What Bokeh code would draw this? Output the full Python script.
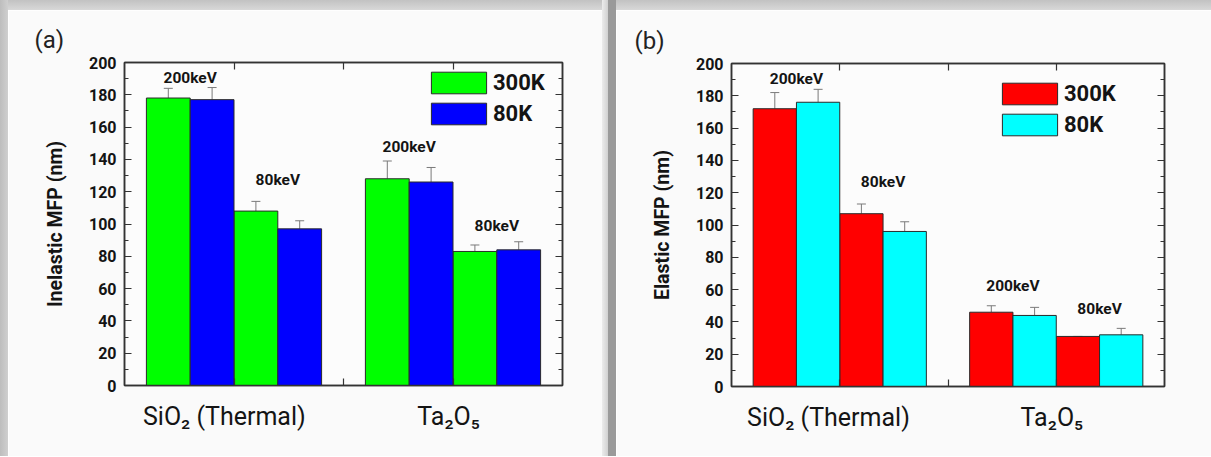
from bokeh.plotting import figure
from bokeh.models import (ColumnDataSource, Whisker, TeeHead, Legend, LegendItem, LinearAxis,
                          FixedTicker, SingleIntervalTicker, CustomJSTickFormatter, Range1d, Div)
from bokeh.layouts import row, column
from bokeh.embed import file_html
from bokeh.resources import INLINE
from bokeh.core.properties import value

# ---------------- data ----------------
materials = ["SiO₂ (Thermal)", "Ta₂O₅"]
energies = ["200keV", "80keV"]
temps = ["300K", "80K"]

# order: SiO2-200keV, SiO2-80keV, Ta2O5-200keV, Ta2O5-80keV
inel_300K = [178, 108, 128, 83]
inel_80K = [177, 97, 126, 84]
inel_err_300K = [6, 6, 11, 4]
inel_err_80K = [7.5, 5, 9, 5]

el_300K = [172, 107, 46, 31]
el_80K = [176, 96, 44, 32]
el_err_300K = [10, 6, 4, 0]
el_err_80K = [8, 6, 5, 4]

FONT = "Roboto"
TXT = "#141414"
H = 446


def bar_x(t):
    return [1 + 5 * m + 2 * e + t for m in range(2) for e in range(2)]


def make_panel(tag, ylabel, vals, errs, colors, note_y, legend_loc, width,
               min_left, min_right, min_top, cat_shift, tag_offset):
    p = figure(width=width, height=H, x_range=Range1d(0, 10), y_range=Range1d(0, 200),
               output_backend="svg", toolbar_location=None,
               x_axis_type=None, y_axis_type=None, title=tag,
               min_border_left=min_left, min_border_right=min_right,
               min_border_top=min_top, min_border_bottom=H - min_top - 323)
    p.background_fill_color = "#fcfcfc"
    p.border_fill_color = "#fafafa"
    p.outline_line_color = "#333333"
    p.outline_line_width = 1.5

    p.title.text_font = FONT
    p.title.text_font_style = "normal"
    p.title.text_font_size = "24px"
    p.title.text_color = "#222222"
    p.title.align = "left"
    p.title.offset = tag_offset
    p.title.standoff = 17

    def style_axis(ax):
        ax.axis_line_color = "#333333"
        ax.axis_line_width = 1.5
        ax.major_tick_in = 7
        ax.major_tick_out = 0
        ax.minor_tick_in = 4
        ax.minor_tick_out = 0
        ax.major_tick_line_color = "#333333"
        ax.minor_tick_line_color = "#333333"
        ax.major_tick_line_width = 1.2
        ax.minor_tick_line_width = 1.2

    yl = LinearAxis(ticker=SingleIntervalTicker(interval=20, num_minor_ticks=2), axis_label=ylabel)
    style_axis(yl)
    yl.major_label_text_font = FONT
    yl.major_label_text_font_style = "bold"
    yl.major_label_text_font_size = "16px"
    yl.major_label_text_color = TXT
    yl.major_label_standoff = 8
    yl.axis_label_text_font = FONT
    yl.axis_label_text_font_style = "bold"
    yl.axis_label_text_font_size = "19.5px"
    yl.axis_label_text_color = TXT
    yl.axis_label_standoff = 19
    p.add_layout(yl, "left")

    yr = LinearAxis(ticker=SingleIntervalTicker(interval=20, num_minor_ticks=2),
                    formatter=CustomJSTickFormatter(code="return ''"))
    style_axis(yr)
    yr.major_label_standoff = 0
    yr.major_label_text_font_size = "1px"
    p.add_layout(yr, "right")

    for loc in ("below", "above"):
        xa = LinearAxis(ticker=FixedTicker(ticks=[2.5, 5, 7.5], minor_ticks=[]),
                        formatter=CustomJSTickFormatter(code="return ''"))
        style_axis(xa)
        xa.major_label_standoff = 0
        xa.major_label_text_font_size = "1px"
        p.add_layout(xa, loc)

    # category labels: an axis of their own below the tick axis
    cat_ticks = [2.5 + 5 * i + cat_shift[i] for i in range(len(materials))]
    ca = LinearAxis(ticker=FixedTicker(ticks=cat_ticks, minor_ticks=[]),
                    major_label_overrides={t: m for t, m in zip(cat_ticks, materials)})
    ca.axis_line_color = None
    ca.major_tick_line_color = None
    ca.minor_tick_line_color = None
    ca.major_label_standoff = 10
    ca.major_label_text_font = FONT
    ca.major_label_text_font_size = "25px"
    ca.major_label_text_color = TXT
    p.add_layout(ca, "below")

    rends = []
    for t in range(2):
        src = ColumnDataSource(dict(
            x=bar_x(t), top=vals[t],
            upper=[v + e for v, e in zip(vals[t], errs[t])]))
        r = p.vbar(x="x", top="top", bottom=0, width=1, source=src,
                   fill_color=colors[t], line_color="#2a2a2a", line_width=1)
        rends.append(r)
        w = Whisker(source=src, base="x", lower="top", upper="upper",
                    line_color="#7a7a7a", line_width=1,
                    upper_head=TeeHead(size=9, line_color="#7a7a7a", line_width=1),
                    lower_head=None)
        p.add_layout(w)

    note_x = [1.5 + 5 * m + 2 * e for m in range(2) for e in range(2)]
    p.text(x=note_x, y=note_y, text=energies * 2,
           text_font=value(FONT), text_font_style="bold", text_font_size="15.5px",
           text_align="center", text_baseline="middle", text_color=TXT)

    # legend glyphs are drawn inset by 10% of the glyph box
    legend = Legend(items=[LegendItem(label=temps[t], renderers=[rends[t]]) for t in range(2)],
                    location=legend_loc, glyph_width=69, glyph_height=27,
                    label_text_font=FONT, label_text_font_style="bold",
                    label_text_font_size="22px", label_text_color=TXT,
                    label_standoff=0, label_height=22, spacing=4, padding=0,
                    border_line_color=None, background_fill_alpha=0)
    p.add_layout(legend)
    return p


pa = make_panel("(a)", "Inelastic MFP (nm)", [inel_300K, inel_80K],
                [inel_err_300K, inel_err_80K], ["#00ff00", "#0000ff"],
                [190.5, 127, 147.5, 99], (300, 258), 594, 116, 40, 52, [-0.22, -0.1], -90)
pb = make_panel("(b)", "Elastic MFP (nm)", [el_300K, el_80K],
                [el_err_300K, el_err_80K], ["#ff0000", "#00ffff"],
                [190.5, 126.5, 62.5, 48], (264, 248), 595, 115, 47, 53, [-0.26, -0.1], -97)

left_band = Div(text="", width=8, height=H + 10, margin=0,
                styles={"background": "linear-gradient(to right, #bdbdbd, #cfcfcf)"})
top_a = Div(text="", width=594, height=10, margin=0,
            styles={"background": "linear-gradient(to bottom, #c2c2c2, #d8d8d8)"})
top_b = Div(text="", width=595, height=10, margin=0,
            styles={"background": "linear-gradient(to bottom, #c2c2c2, #d8d8d8)"})
gap = Div(text="", width=14, height=H + 10, margin=0,
          styles={"background": "linear-gradient(to right, #ececec 0%, #d2d2d2 40%, #9a9a9a 45%, #9a9a9a 100%)"})

layout = row(left_band, column(top_a, pa, spacing=0), gap, column(top_b, pb, spacing=0), spacing=0)

open("out.html", "w").write(file_html(layout, INLINE))
